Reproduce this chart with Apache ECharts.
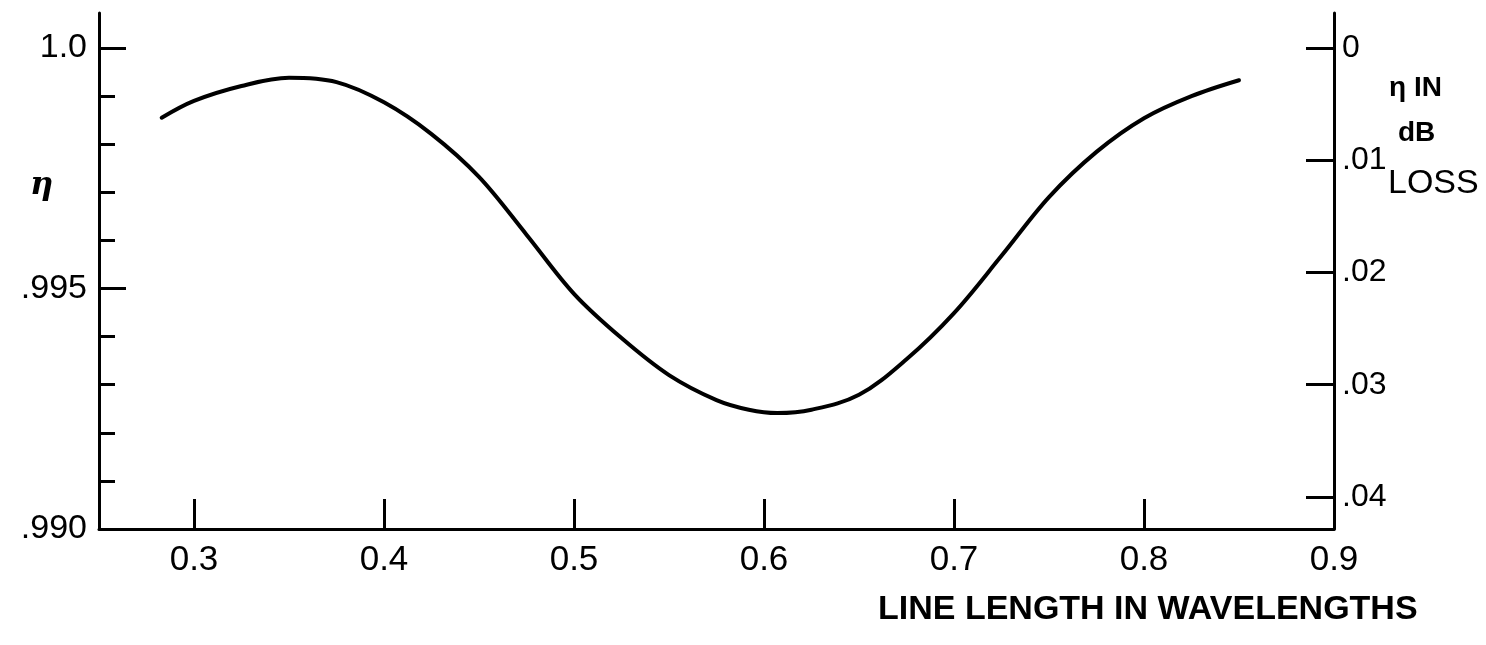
<!DOCTYPE html>
<html>
<head>
<meta charset="utf-8">
<script src="https://cdn.jsdelivr.net/npm/echarts@6/dist/echarts.min.js"></script>
<style>
html,body{margin:0;padding:0;background:#fff;}
#chart{width:1486px;height:645px;}
</style>
</head>
<body>
<div id="chart"></div>
<script>
// Line length in wavelengths
const lineLength = [0.283,0.300,0.325,0.350,0.375,0.400,0.425,0.450,0.475,0.500,0.525,0.550,0.575,0.592,0.607,0.625,0.650,0.675,0.700,0.725,0.750,0.775,0.800,0.825,0.850];
// Efficiency eta
const eta = [0.99855,0.99890,0.99921,0.99938,0.99929,0.99887,0.99821,0.99732,0.99612,0.99489,0.99397,0.99320,0.99268,0.99248,0.99241,0.99248,0.99279,0.99353,0.99449,0.99568,0.99690,0.99784,0.99854,0.99900,0.99933];
// Tick values
const xTicks = [0.3,0.4,0.5,0.6,0.7,0.8];
const xLabels = [0.3,0.4,0.5,0.6,0.7,0.8,0.9];
const etaMajor = [0.990,0.995,1.0];
const etaMinor = [0.991,0.992,0.993,0.994,0.996,0.997,0.998,0.999];
const dbTicks = [0,0.01,0.02,0.03,0.04];
const etaLabelText = {'0.99':'.990','0.995':'.995','1':'1.0'};
const dbLabelText = {'0':'0','0.01':'.01','0.02':'.02','0.03':'.03','0.04':'.04'};

const chart = echarts.init(document.getElementById('chart'), null, {renderer:'canvas'});
const FONT = '"Liberation Sans", Arial, sans-serif';
const axisLine = {show:true, onZero:false, lineStyle:{color:'#000', width:3}};

chart.setOption({
  backgroundColor:'#fff',
  animation:false,
  grid:{left:99, right:152, top:13, bottom:116, containLabel:false},
  xAxis:{
    type:'value', min:0.25, max:0.9,
    axisLine:axisLine,
    axisTick:{show:true, inside:true, length:30, customValues:xTicks, lineStyle:{color:'#000', width:3}},
    axisLabel:{show:true, customValues:xLabels, margin:14, color:'#000', fontFamily:FONT, fontSize:35,
      formatter:v=>v.toFixed(1)},
    splitLine:{show:false}
  },
  yAxis:[
    {
      type:'value', position:'left', min:0.990, max:1.000728,
      axisLine:axisLine,
      axisTick:{show:true, inside:true, length:27, customValues:etaMajor, lineStyle:{color:'#000', width:3}},
      axisLabel:{show:true, customValues:etaMajor, margin:12, color:'#000', fontFamily:FONT, fontSize:34,
        formatter:v=>etaLabelText[String(+v.toFixed(3))] || ''},
      splitLine:{show:false}
    },
    {
      type:'value', position:'left', min:0.990, max:1.000728,
      axisLine:{show:false},
      axisTick:{show:true, inside:true, length:16, customValues:etaMinor, lineStyle:{color:'#000', width:3}},
      axisLabel:{show:false},
      splitLine:{show:false}
    },
    {
      type:'value', position:'right', inverse:true, min:-0.003118, max:0.042851,
      axisLine:axisLine,
      axisTick:{show:true, inside:true, length:28, customValues:dbTicks, lineStyle:{color:'#000', width:3}},
      axisLabel:{show:true, customValues:dbTicks, margin:8, color:'#000', fontFamily:FONT, fontSize:32,
        formatter:v=>dbLabelText[String(+v.toFixed(2))] || ''},
      splitLine:{show:false}
    }
  ],
  series:[{
    type:'line', xAxisIndex:0, yAxisIndex:0,
    data:lineLength.map((x,i)=>[x, eta[i]]),
    smooth:0.35, showSymbol:false, symbol:'none',
    lineStyle:{color:'#000', width:4, cap:'round', join:'round'}
  }],
  graphic:[
    {type:'text', left:30, top:170, style:{text:'η', font:'italic bold 32px "DejaVu Serif", serif', fill:'#000'}},
    {type:'text', left:1389, top:74, style:{text:'η IN', font:'bold 28px "Liberation Sans", Arial, sans-serif', fill:'#000'}},
    {type:'text', left:1398, top:119, style:{text:'dB', font:'bold 28px "Liberation Sans", Arial, sans-serif', fill:'#000'}},
    {type:'text', left:1388, top:167, style:{text:'LOSS', font:'34px "Liberation Sans", Arial, sans-serif', fill:'#000'}},
    {type:'text', left:878, top:593, style:{text:'LINE LENGTH IN WAVELENGTHS', font:'bold 34px "Liberation Sans", Arial, sans-serif', fill:'#000'}}
  ]
});
</script>
</body>
</html>
